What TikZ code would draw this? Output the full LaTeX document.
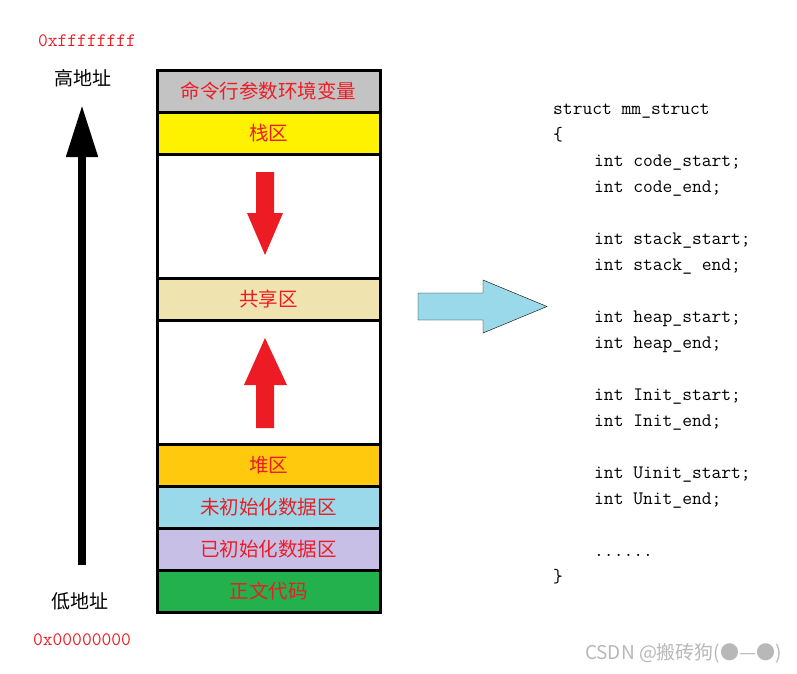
\documentclass[tikz,border=0pt]{standalone}
\usepackage{fontspec}
\newfontfamily\cjk{Noto Sans CJK SC}
\usetikzlibrary{arrows.meta}

\definecolor{argsgray}{RGB}{195,195,195}
\definecolor{stackyellow}{RGB}{255,242,0}
\definecolor{sharedtan}{RGB}{239,228,176}
\definecolor{heaporange}{RGB}{255,201,14}
\definecolor{bssblue}{RGB}{153,217,234}
\definecolor{datalilac}{RGB}{200,191,231}
\definecolor{textgreen}{RGB}{34,177,76}
\definecolor{memred}{RGB}{237,28,36}
\newcommand\codedots{......}

\tikzset{
  seg/.style={draw=black,line width=3pt,minimum width=223pt,minimum height=42pt,inner sep=0pt,font=\cjk\fontsize{19.5}{21}\selectfont,text=memred},
  addr/.style={inner sep=0pt,font=\ttfamily\fontsize{19}{20}\selectfont,text=memred},
  side/.style={inner sep=0pt,font=\cjk\fontsize{19}{21}\selectfont},
  code/.style={anchor=base west,inner sep=0pt,font=\ttfamily\fontsize{19}{20}\selectfont},
}

\begin{document}
\begin{tikzpicture}[x=1pt,y=-1pt]
\useasboundingbox (0,0) rectangle (797,673);

% address labels
\node[addr] (hiaddr) at (87,41) {0xffffffff};
\node[side] (hi) at (83,78) {高地址};
\node[side] (lo) at (80,601) {低地址};
\node[addr] (loaddr) at (82,640) {0x00000000};
\coordinate (lowend) at (82,565);
\coordinate (highend) at (82,105);
\draw[line width=8pt,-{Triangle[width=30pt,length=52pt]}] (lowend)--(highend);

% memory layout
\node[seg,fill=argsgray] (args) at (268.5,91) {命令行参数环境变量};
\node[seg,fill=stackyellow] (stack) at (268.5,133) {栈区};
\node[seg,fill=white,minimum height=124pt] (gap1) at (268.5,216) {};
\node[seg,fill=sharedtan] (shared) at (268.5,299) {共享区};
\node[seg,fill=white,minimum height=124pt] (gap2) at (268.5,382) {};
\node[seg,fill=heaporange] (heap) at (268.5,465) {堆区};
\node[seg,fill=bssblue] (bss) at (268.5,507) {未初始化数据区};
\node[seg,fill=datalilac] (data) at (268.5,549) {已初始化数据区};
\node[seg,fill=textgreen] (text) at (268.5,591) {正文代码};

\fill[memred] (256,172)--(274,172)--(274,213)--(283,213)--(265,255)--(247,213)--(256,213)--cycle;
\fill[memred] (265,338)--(287,385)--(274,385)--(274,428)--(256,428)--(256,385)--(244,385)--cycle;

\draw[fill=bssblue] (418,293)--(483,293)--(483,280)--(547,306.5)--(483,333)--(483,320)--(418,320)--cycle;

% mm_struct
\foreach \k/\xx/\txt in {0/553/struct mm\_struct, 1/553/\{,
  2/594/int code\_start;, 3/594/int code\_end;,
  5/594/int stack\_start;, 6/594/int stack\_ end;,
  8/594/int heap\_start;, 9/594/int heap\_end;,
  11/594/int Init\_start;, 12/594/int Init\_end;,
  14/594/int Uinit\_start;, 15/594/int Unit\_end;,
  17/594/\codedots, 18/553/\}}
  \node[code] (line\k) at (\xx,{114+26*\k}) {\txt};

\node[inner sep=0pt,font=\cjk\fontsize{19}{21}\selectfont,text=black!28,anchor=east] (mark) at (782,653) {CSDN @搬砖狗(●—●)};
\end{tikzpicture}
\end{document}
